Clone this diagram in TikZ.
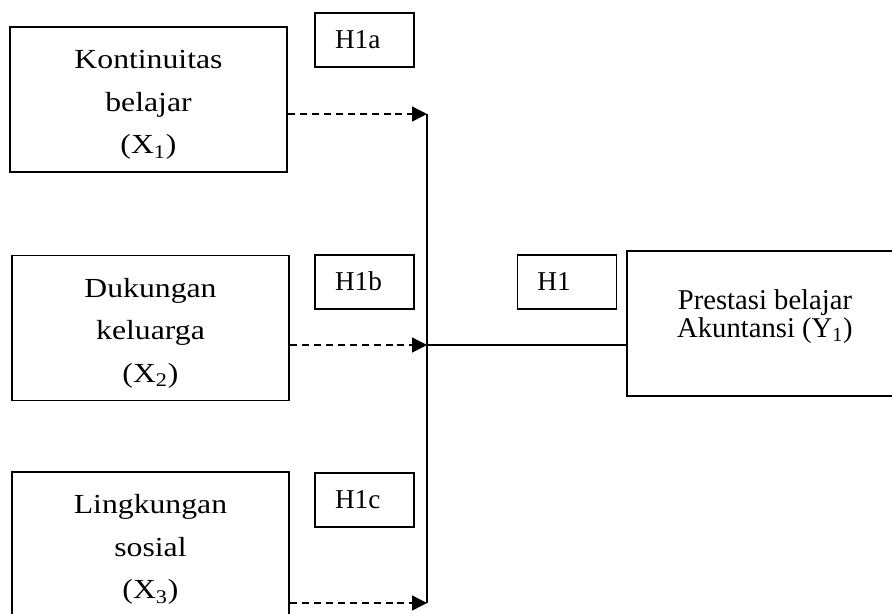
\documentclass[tikz,border=0pt]{standalone}
\usepackage{fontspec}
\setmainfont{Liberation Serif}[FakeStretch=1.15]
\newfontfamily\plainserif{Liberation Serif}
\usetikzlibrary{arrows.meta, positioning}
\tikzset{
  varbox/.style={rectangle, draw, line width=1.1pt, minimum width=5.54cm, minimum height=2.9cm,
    align=center, text height=66pt, text depth=4pt, font=\fontsize{15.7}{24.2}\selectfont},
  hypbox/.style={rectangle, draw, line width=0.8pt, minimum height=1.08cm, text width=1.18cm,
    inner xsep=0.4cm, align=left, text height=10.2pt, text depth=0pt,
    font=\plainserif\fontsize{15.5}{17}\selectfont},
  ybox/.style={rectangle, draw, line width=1.1pt, minimum width=5.52cm, minimum height=2.9cm,
    align=center, text height=19.4pt, text depth=4pt, font=\plainserif\fontsize{16.3}{15.4}\selectfont},
  dasharrow/.style={dash pattern=on 4pt off 2.8pt, line width=0.8pt, -{Triangle[length=0.3cm, width=0.3cm]}},
  joinline/.style={line width=1.1pt}
}
\begin{document}
\begin{tikzpicture}[x=0.02cm, y=-0.02cm]
  \useasboundingbox (0,0) rectangle (892,613);
  \node[varbox] (x1) at (148.5,99.5) {Kontinuitas\\belajar\\(X\textsubscript{1})};
  \node[varbox] (x2) at (150.5,328)  {Dukungan\\keluarga\\(X\textsubscript{2})};
  \node[varbox] (x3) at (150.5,544.5) {Lingkungan\\sosial\\(X\textsubscript{3})};
  \node[hypbox] (h1a) at (364.5,40)  {H1a};
  \node[hypbox] (h1b) at (364.5,282) {H1b};
  \node[hypbox] (h1c) at (364.5,500) {H1c};
  \node[hypbox, right=2.04cm of h1b] (h1) {H1};
  \node[ybox]   (y1) at (765,323.5) {Prestasi belajar\\Akuntansi (Y\textsubscript{1})};
  \coordinate (jt) at (427,114);
  \coordinate (jm) at (427,345);
  \coordinate (jb) at (427,603);
  \draw[joinline] (jt) -- (jb);
  \draw[joinline] (jm) -- (jm -| y1.west);
  \draw[dasharrow] (x1.east |- jt) -- (jt);
  \draw[dasharrow] (x2.east |- jm) -- (jm);
  \draw[dasharrow] (x3.east |- jb) -- (jb);
\end{tikzpicture}
\end{document}
